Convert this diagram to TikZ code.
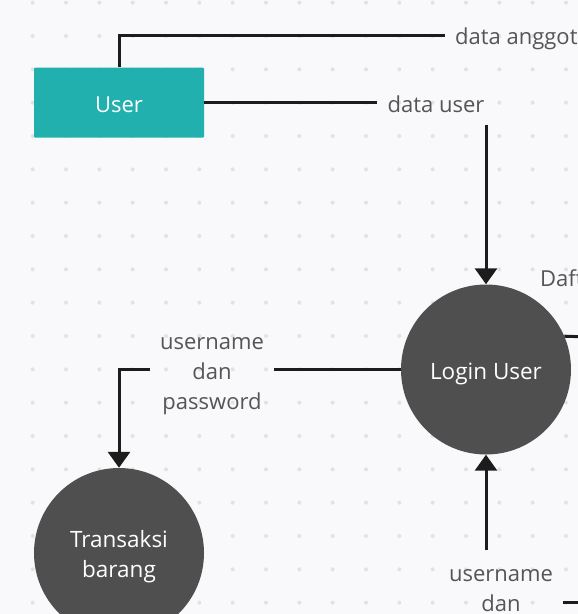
\documentclass[tikz,border=0pt]{standalone}
\usepackage{fontspec}
\setmainfont{Open Sans}
\usetikzlibrary{arrows.meta,positioning,calc}
\definecolor{bgpaper}{HTML}{F9F9FB}
\definecolor{griddot}{HTML}{E1E1E7}
\definecolor{entteal}{HTML}{22B0AE}
\definecolor{procgray}{HTML}{4F4F4F}
\definecolor{flowtext}{HTML}{555555}
\definecolor{flowline}{HTML}{1C1C1C}
\newcommand{\lstrut}{\rule[-5pt]{0pt}{30pt}}
\tikzset{
  boxtext/.style={execute at begin node=\lstrut, execute at end node=\lstrut},
  entity/.style={boxtext, fill=entteal, text=white, rounded corners=1pt, minimum width=170pt, minimum height=70pt, inner sep=0pt, font=\fontsize{22}{30}\selectfont},
  process/.style={boxtext, circle, fill=procgray, text=white, minimum size=170pt, inner sep=0pt, align=center, font=\fontsize{22.5}{30}\selectfont},
  flowlabel/.style={boxtext, text=flowtext, align=center, inner xsep=10pt, inner ysep=7pt, font=\fontsize{22}{30}\selectfont},
  flow/.style={draw=flowline, line width=3pt},
  arr/.style={flow, -{Triangle[length=16pt,width=22pt]}},
}

\begin{document}
\begin{tikzpicture}[x=1pt,y=-1pt]
  \clip (0,0) rectangle (578,614);
  \fill[bgpaper] (0,0) rectangle (578,614);
  % dot grid
  \foreach \i in {0,...,17}
    \foreach \j in {0,...,18}
      \fill[griddot] (32.7+33.33*\i,2.7+33.33*\j) circle (2pt);

  % entity and processes
  \node[entity] (user) at (119,102.5) {User};
  \node[process] (login) at (486,369.5) {Login User};
  \node[process] (transaksi) at (119,553) {\lstrut Transaksi\\barang\lstrut};

  % data flow labels
  \node[flowlabel, anchor=west] (langgota) at (445,35) {data anggota};
  \node[flowlabel] (ldatauser) at (436,102.5) {data user};
  \node[flowlabel] (lupass) at (212,369.5) {\lstrut username\\dan\\password\lstrut};
  \node[flowlabel] (lupassb) at (501,602) {\lstrut username\\dan\\password\lstrut};
  \node[flowlabel, anchor=west] (ldaftar) at (530,276) {Daftar};
  \coordinate (outdaftar) at (590,337);
  \coordinate (outpass) at (590,602);

  % flows
  \draw[flow] (user.north) |- (langgota.west);
  \draw[flow] (user.east) -- (ldatauser.west);
  \draw[arr] (login.north |- ldatauser.south) -- (login.north);
  \draw[flow] (login.west) -- (lupass.east);
  \draw[arr] (lupass.west) -| (transaksi.north);
  \draw[arr] (login.south |- lupassb.north) -- (login.south);
  \draw[flow] (login.23) -- (outdaftar);
  \draw[flow] (lupassb.east) -- (outpass);
\end{tikzpicture}
\end{document}
